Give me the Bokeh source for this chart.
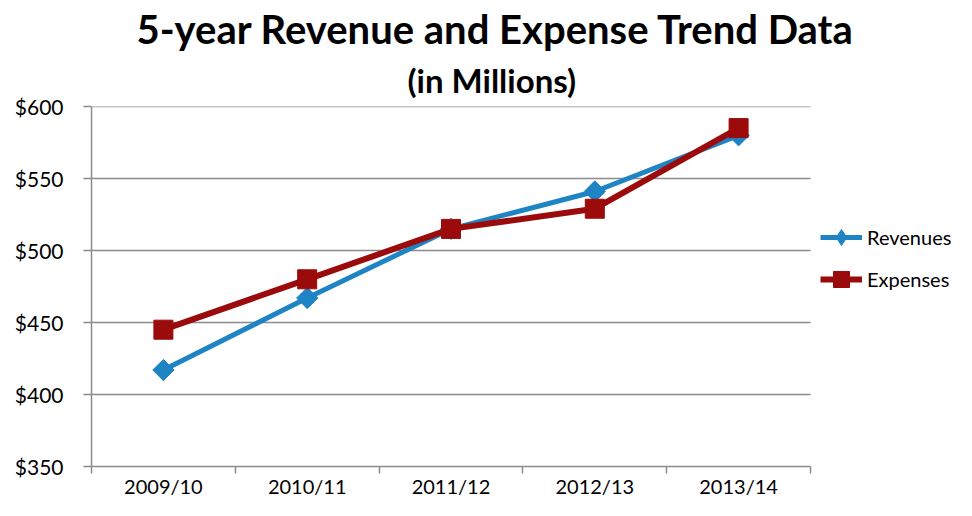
from bokeh.plotting import figure
from bokeh.models import (FixedTicker, NumeralTickFormatter, Title, Legend, LegendItem,
                          Range1d, ColumnDataSource)
from bokeh.embed import file_html
from bokeh.resources import INLINE
import math

years = ["2009/10", "2010/11", "2011/12", "2012/13", "2013/14"]
revenues = [417, 467, 515, 541, 580]
expenses = [445, 480, 515, 529, 585]
y_ticks = [350, 400, 450, 500, 550, 600]

FONT = "Lato"
BLUE = "#1f84c4"
RED = "#9b0b0b"
GRID = "#8c8c8c"

n = len(years)
xs = [i + 0.5 for i in range(n)]
src = ColumnDataSource(dict(x=xs, rev=revenues, exp=expenses))

# plot frame spans to the right edge so the legend can sit to the right of the data area
W, LEFT, DATA_RIGHT = 956, 91, 810
x_end = n * (W - LEFT) / (DATA_RIGHT - LEFT)

p = figure(width=W, height=500, output_backend="svg", toolbar_location=None,
           x_range=Range1d(0, x_end), y_range=Range1d(y_ticks[0], y_ticks[-1]),
           min_border_left=LEFT, min_border_right=0, min_border_top=106, min_border_bottom=30)

p.title.text = "5-year Revenue and Expense Trend Data"
p.title.text_font = FONT
p.title.text_font_size = "40px"
p.title.text_font_style = "bold"
p.title.text_color = "black"
p.title.align = "left"
p.title.offset = 45
p.title.standoff = 0
sub = Title(text="(in Millions)", text_font=FONT, text_color="black",
            text_font_size="33px", text_font_style="bold", align="left", offset=316,
            standoff=12, vertical_align="middle")
p.add_layout(sub, "above")

p.outline_line_color = None
p.background_fill_color = "white"
p.border_fill_color = "white"

# axes
p.xaxis.bounds = (0, n)
p.xaxis.ticker = FixedTicker(ticks=xs, minor_ticks=list(range(n + 1)))
p.xaxis.major_label_overrides = {x: y for x, y in zip(xs, years)}
p.xaxis.major_tick_line_color = None
p.xaxis.major_tick_out = 0
p.xaxis.major_tick_in = 0
p.xaxis.minor_tick_out = 7
p.xaxis.minor_tick_in = 0
p.xaxis.minor_tick_line_color = GRID
p.xaxis.minor_tick_line_width = 1.5
p.xaxis.axis_line_color = GRID
p.xaxis.axis_line_width = 1.5
p.xaxis.major_label_text_font = FONT
p.xaxis.major_label_text_font_size = "20px"
p.xaxis.major_label_text_color = "black"
p.xaxis.major_label_standoff = 0

p.yaxis.ticker = FixedTicker(ticks=y_ticks, minor_ticks=[])
p.yaxis.formatter = NumeralTickFormatter(format="$0")
p.yaxis.major_tick_out = 8
p.yaxis.major_tick_in = 0
p.yaxis.major_tick_line_color = GRID
p.yaxis.major_tick_line_width = 1.5
p.yaxis.axis_line_color = GRID
p.yaxis.axis_line_width = 1.5
p.yaxis.major_label_text_font = FONT
p.yaxis.major_label_text_font_size = "21px"
p.yaxis.major_label_text_color = "black"
p.yaxis.major_label_standoff = 20

p.xgrid.grid_line_color = None
p.ygrid.grid_line_color = None
# horizontal gridlines limited to the category area
p.segment(x0=[0] * (len(y_ticks) - 1), x1=[n] * (len(y_ticks) - 1),
          y0=y_ticks[1:], y1=y_ticks[1:], line_color=GRID, line_width=1.5)

rl = p.line("x", "rev", source=src, line_color=BLUE, line_width=5)
# diamond glyph (used as the legend key) lies fully under the rotated-square markers
rk = p.scatter("x", "rev", source=src, marker="diamond", size=18, fill_color=BLUE, line_color=BLUE)
p.scatter("x", "rev", source=src, marker="square", angle=math.pi / 4, size=15,
          fill_color=BLUE, line_color=BLUE)
el = p.line("x", "exp", source=src, line_color=RED, line_width=6)
em = p.scatter("x", "exp", source=src, marker="square", size=19, fill_color=RED, line_color=RED)

legend = Legend(items=[LegendItem(label="Revenues", renderers=[rl, rk]),
                       LegendItem(label="Expenses", renderers=[el, em])],
                location=(729, 167), orientation="vertical", glyph_width=42, glyph_height=40,
                spacing=2, padding=0, margin=0, label_standoff=5,
                label_text_font=FONT, label_text_font_size="20px", label_text_color="black",
                border_line_color=None, background_fill_alpha=0)
p.add_layout(legend, "center")

open("out.html", "w").write(file_html(p, INLINE))
